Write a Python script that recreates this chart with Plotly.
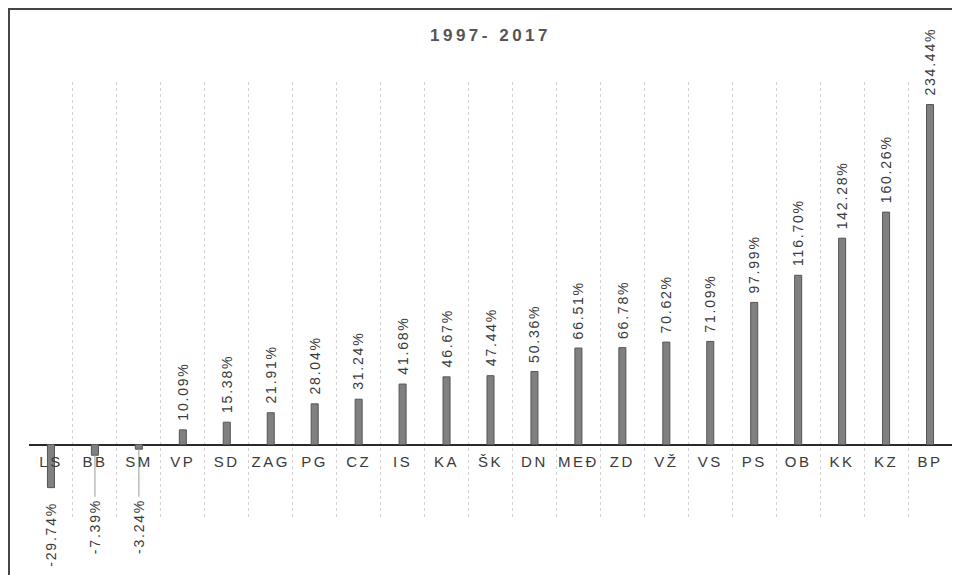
import plotly.graph_objects as go

# regions and % change 1997-2017
regions = ["LS", "BB", "SM", "VP", "SD", "ZAG", "PG", "CZ", "IS", "KA", "ŠK",
           "DN", "MEĐ", "ZD", "VŽ", "VS", "PS", "OB", "KK", "KZ", "BP"]
change = [-29.74, -7.39, -3.24, 10.09, 15.38, 21.91, 28.04, 31.24, 41.68, 46.67, 47.44,
          50.36, 66.51, 66.78, 70.62, 71.09, 97.99, 116.70, 142.28, 160.26, 234.44]
title_text = "1997- 2017"

FONT = "Arial, Liberation Sans, sans-serif"
TXT = "#3a3a3a"
Y_MIN, Y_MAX = -50, 250
NEG_LABEL_Y = -36  # negative labels sit below the category row


def spaced(s, px):
    return '<span style="letter-spacing:%spx">%s</span>' % (px, s)


fig = go.Figure()
fig.add_trace(go.Bar(x=regions, y=change, width=0.16,
                     marker=dict(color="#808080", line=dict(color="#555555", width=1)),
                     hoverinfo="x+y"))

# leader lines for negative labels pushed below the category names
lx, ly = [], []
annots = []
for r, v in zip(regions, change):
    label = spaced("%.2f%%" % v, 1.8)
    if v >= 0:
        annots.append(dict(x=r, y=v, text=label, textangle=-90, showarrow=False,
                           xanchor="center", yanchor="bottom", yshift=7,
                           font=dict(family=FONT, size=14, color=TXT)))
    else:
        ypos = min(v - 8, NEG_LABEL_Y)
        if ypos < v - 8:
            lx += [r, r, None]
            ly += [v, ypos, None]
        annots.append(dict(x=r, y=ypos, text=label, textangle=-90, showarrow=False,
                           xanchor="center", yanchor="top",
                           font=dict(family=FONT, size=14, color=TXT)))

fig.add_trace(go.Scatter(x=lx, y=ly, mode="lines", line=dict(color="#9a9a9a", width=1),
                         hoverinfo="skip"))

# page body has an 8px margin, so the figure is 8px smaller than the window
fig.update_layout(
    width=952, height=567,
    margin=dict(l=21, r=8, t=74, b=58),
    paper_bgcolor="white", plot_bgcolor="white",
    showlegend=False,
    title=dict(text="<b>" + spaced(title_text, 3.5) + "</b>", x=0.5, xref="paper",
               xanchor="center", y=1 - 27 / 567, yanchor="middle",
               font=dict(family=FONT, size=17, color="#555555")),
    annotations=annots,
    shapes=[dict(type="path", xref="paper", yref="paper",
                 path="M -0.0217,-0.2 L -0.0217,1.168 L 1.05,1.168",
                 line=dict(color="#444444", width=2))],
)
fig.update_xaxes(type="category", tickson="boundaries", showgrid=True,
                 gridcolor="#d2d2d2", griddash="dot", gridwidth=1,
                 anchor="free", position=(0 - Y_MIN) / (Y_MAX - Y_MIN),
                 showline=False, ticks="", ticklabelstandoff=6, tickangle=0,
                 tickmode="array", tickvals=regions,
                 ticktext=[spaced(r, 2.5) for r in regions],
                 tickfont=dict(family=FONT, size=15, color=TXT))
fig.update_yaxes(range=[Y_MIN, Y_MAX], showgrid=False, showticklabels=False,
                 zeroline=True, zerolinecolor="#2a2a2a", zerolinewidth=1.5)

fig.write_html("out.html")
